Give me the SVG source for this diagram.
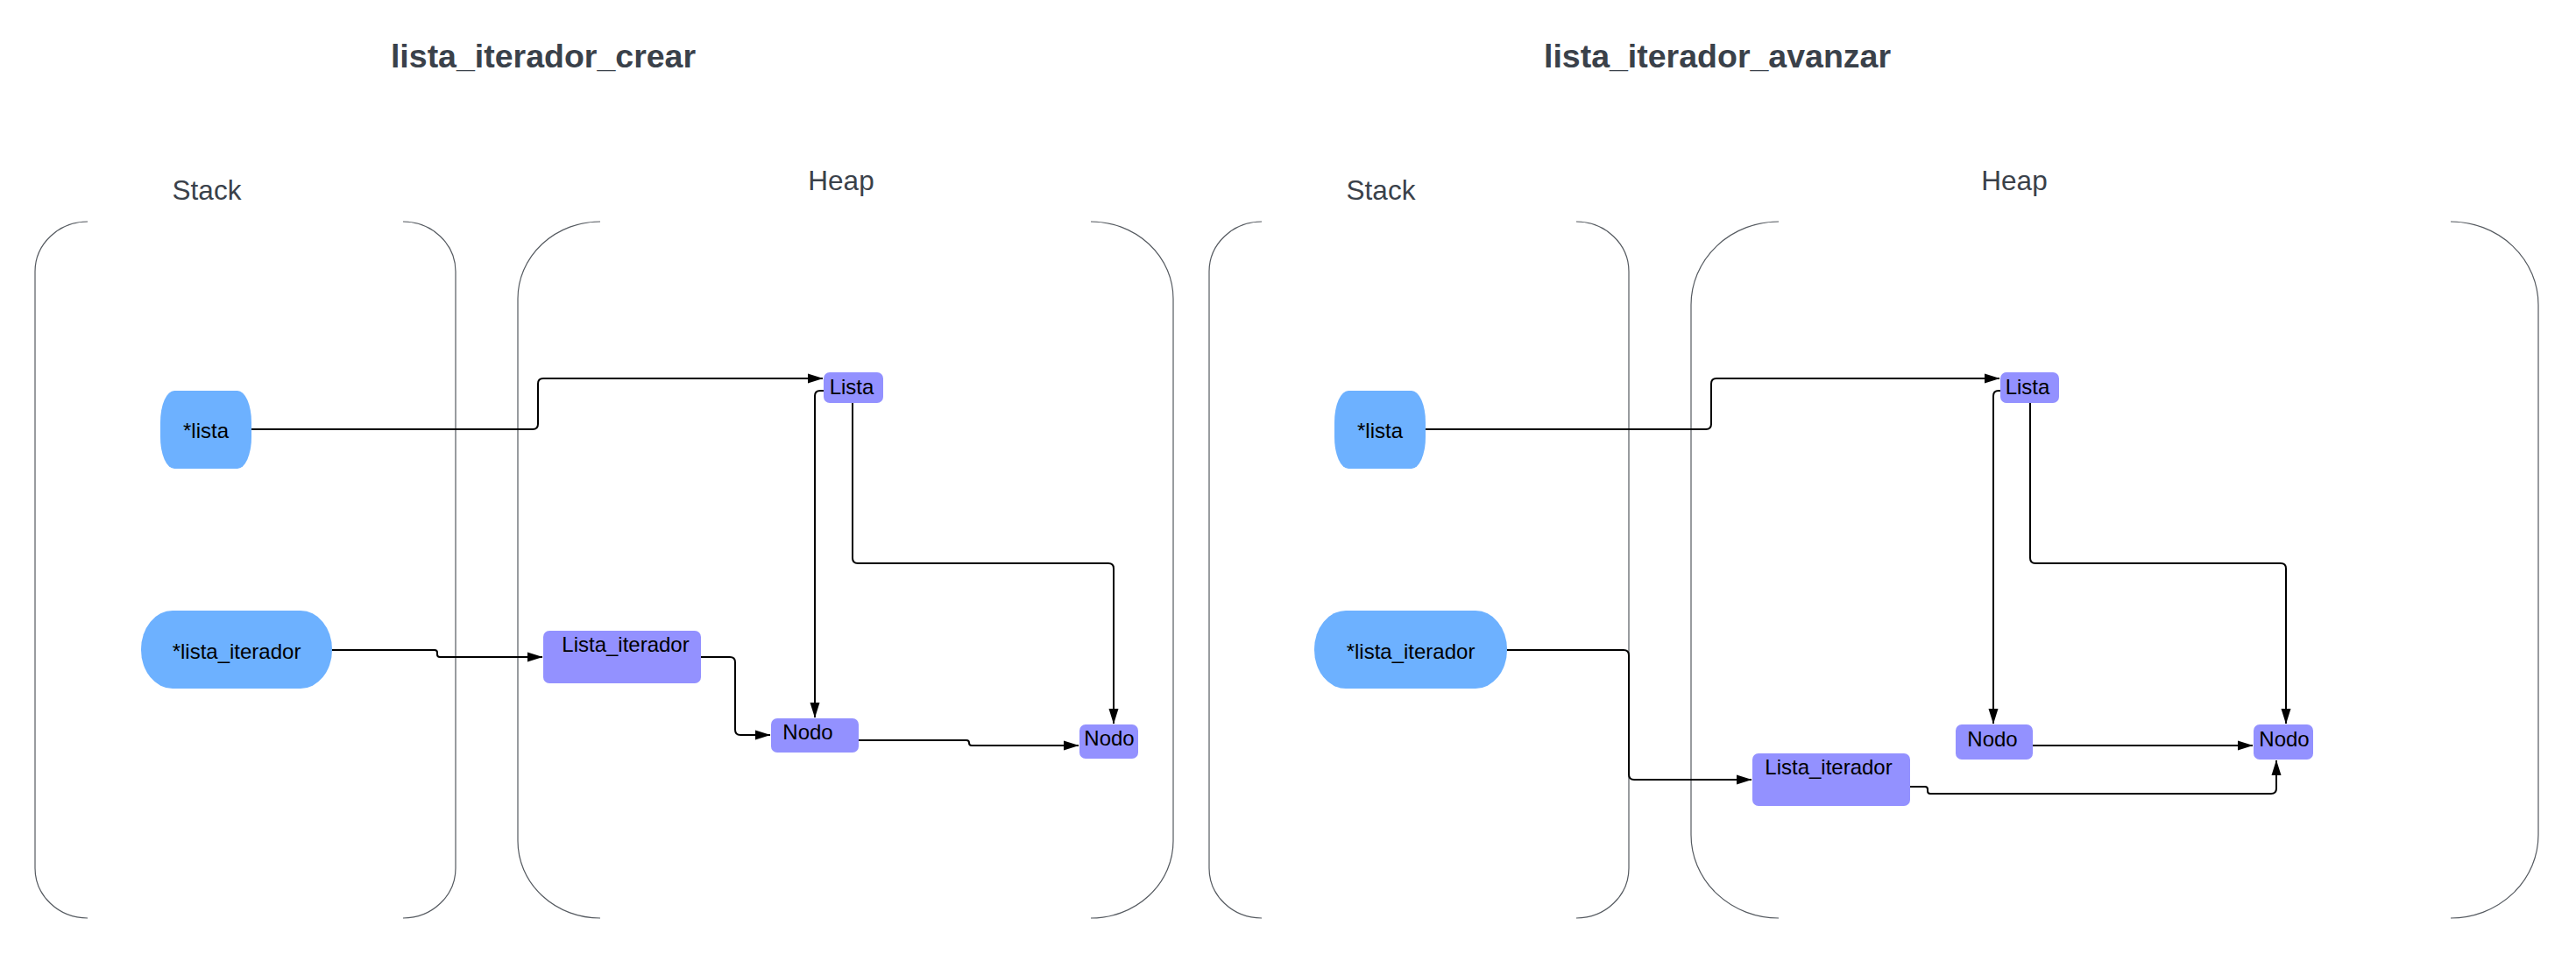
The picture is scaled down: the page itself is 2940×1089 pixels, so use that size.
<svg xmlns="http://www.w3.org/2000/svg" width="2940" height="1089" viewBox="0 0 2940 1089">
<style>
.bg{fill:#ffffff}
.title{font-family:"Liberation Sans",Arial,sans-serif;font-weight:bold;font-size:37.5px;fill:#3a414a;text-anchor:middle}
.area{font-family:"Liberation Sans",Arial,sans-serif;font-size:31.5px;fill:#3a414a;text-anchor:middle}
.cont{fill:none;stroke:#555a60;stroke-width:1.2}
.ptr{fill:#6db1ff}
.obj{fill:#9391ff}
.lbl{font-family:"Liberation Sans",Arial,sans-serif;font-size:24px;fill:#000000;text-anchor:middle}
.conn{fill:none;stroke:#000000;stroke-width:2;marker-end:url(#arr)}
</style>
<defs>
<marker id="arr" markerUnits="userSpaceOnUse" markerWidth="19" markerHeight="13" refX="17" refY="6" orient="auto">
<path d="M0,0.5 L17.5,6 L0,11.5 Z" fill="#000000"/>
</marker>
</defs>
<rect class="bg" x="0" y="0" width="2940" height="1089"/>

<g id="titles">
<text class="title" x="620" y="77">lista_iterador_crear</text>
<text class="title" x="1960" y="77">lista_iterador_avanzar</text>
</g>

<g id="stack1">
<path class="cont" d="M100 253 A60 57 0 0 0 40 310 L40 991 A60 57 0 0 0 100 1048"/>
<path class="cont" d="M460 253 A60 57 0 0 1 520 310 L520 991 A60 57 0 0 1 460 1048"/>
<text class="area" x="236" y="228">Stack</text>
</g>
<g id="heap1">
<path class="cont" d="M685 253 A94 88 0 0 0 591 341 L591 960 A94 88 0 0 0 685 1048"/>
<path class="cont" d="M1245 253 A94 88 0 0 1 1339 341 L1339 960 A94 88 0 0 1 1245 1048"/>
<text class="area" x="960" y="217">Heap</text>
</g>
<g id="stack2">
<path class="cont" d="M1440 253 A60 57 0 0 0 1380 310 L1380 991 A60 57 0 0 0 1440 1048"/>
<path class="cont" d="M1799 253 A60 57 0 0 1 1859 310 L1859 991 A60 57 0 0 1 1799 1048"/>
<text class="area" x="1576" y="228">Stack</text>
</g>
<g id="heap2">
<path class="cont" d="M2030 253 A100 95 0 0 0 1930 348 L1930 953 A100 95 0 0 0 2030 1048"/>
<path class="cont" d="M2797 253 A100 95 0 0 1 2897 348 L2897 953 A100 95 0 0 1 2797 1048"/>
<text class="area" x="2299" y="217">Heap</text>
</g>

<g id="connectors">
<path class="conn" d="M287 490 H608 Q614 490 614 484 V438 Q614 432 620 432 H939"/>
<path class="conn" d="M940 446 H936 Q930 446 930 452 V819"/>
<path class="conn" d="M973 460 V637 Q973 643 979 643 H1265 Q1271 643 1271 649 V826"/>
<path class="conn" d="M379 742 H496 Q499 742 499 745 V747 Q499 750 502 750 H619"/>
<path class="conn" d="M800 750 H833 Q839 750 839 756 V833 Q839 839 845 839 H879"/>
<path class="conn" d="M980 845 H1103 Q1106 845 1106 848 Q1106 851 1109 851 H1231"/>

<path class="conn" d="M1627 490 H1947 Q1953 490 1953 484 V438 Q1953 432 1959 432 H2282"/>
<path class="conn" d="M2283 446 H2281 Q2275 446 2275 452 V826"/>
<path class="conn" d="M2317 460 V637 Q2317 643 2323 643 H2603 Q2609 643 2609 649 V826"/>
<path class="conn" d="M1720 742 H1853 Q1859 742 1859 748 V884 Q1859 890 1865 890 H1999"/>
<path class="conn" d="M2320 851 H2571"/>
<path class="conn" d="M2180 898 H2197 Q2200 898 2200 901 V903 Q2200 906 2203 906 H2592 Q2598 906 2598 900 V868"/>
</g>

<g id="ptr_lista_1">
<rect class="ptr" x="183" y="446" width="104" height="89" rx="16" ry="36"/>
<text class="lbl" x="235" y="500">*lista</text>
</g>
<g id="ptr_lista_iterador_1">
<rect class="ptr" x="161" y="697" width="218" height="89" rx="36" ry="44"/>
<text class="lbl" x="270" y="752">*lista_iterador</text>
</g>
<g id="lista_1">
<rect class="obj" x="940" y="425" width="68" height="35" rx="7"/>
<text class="lbl" x="972" y="450">Lista</text>
</g>
<g id="lista_iterador_1">
<rect class="obj" x="620" y="720" width="180" height="60" rx="7"/>
<text class="lbl" x="714" y="744">Lista_iterador</text>
</g>
<g id="nodo_a_1">
<rect class="obj" x="880" y="820" width="100" height="39" rx="7"/>
<text class="lbl" x="922" y="844">Nodo</text>
</g>
<g id="nodo_b_1">
<rect class="obj" x="1232" y="827" width="67" height="39" rx="7"/>
<text class="lbl" x="1266" y="851">Nodo</text>
</g>

<g id="ptr_lista_2">
<rect class="ptr" x="1523" y="446" width="104" height="89" rx="16" ry="36"/>
<text class="lbl" x="1575" y="500">*lista</text>
</g>
<g id="ptr_lista_iterador_2">
<rect class="ptr" x="1500" y="697" width="220" height="89" rx="36" ry="44"/>
<text class="lbl" x="1610" y="752">*lista_iterador</text>
</g>
<g id="lista_2">
<rect class="obj" x="2283" y="425" width="67" height="35" rx="7"/>
<text class="lbl" x="2314" y="450">Lista</text>
</g>
<g id="lista_iterador_2">
<rect class="obj" x="2000" y="860" width="180" height="60" rx="7"/>
<text class="lbl" x="2087" y="884">Lista_iterador</text>
</g>
<g id="nodo_a_2">
<rect class="obj" x="2232" y="827" width="88" height="40" rx="7"/>
<text class="lbl" x="2274" y="852">Nodo</text>
</g>
<g id="nodo_b_2">
<rect class="obj" x="2572" y="827" width="68" height="40" rx="7"/>
<text class="lbl" x="2607" y="852">Nodo</text>
</g>
</svg>
